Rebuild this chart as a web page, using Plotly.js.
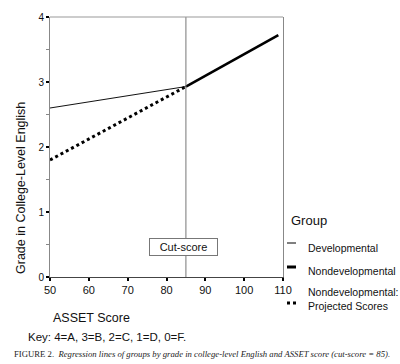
<!DOCTYPE html>
<html>
<head>
<meta charset="utf-8">
<script src="https://cdn.plot.ly/plotly-3.0.1.min.js"></script>
<style>html,body{margin:0;padding:0;background:#fff;}#chart{width:400px;height:364px;}</style>
</head>
<body>
<div id="chart"></div>
<script>
// Data
const devX = [50, 85];
const devY = [2.60, 2.93];
const nondevX = [85, 108.8];
const nondevY = [2.93, 3.72];
const projX = [50, 85];
const projY = [1.80, 2.93];
const cutScore = 85;
const xTicks = [50, 60, 70, 80, 90, 100, 110];
const yTicks = [0, 1, 2, 3, 4];
const seriesNames = ['Developmental', 'Nondevelopmental', 'Nondevelopmental:<br>Projected Scores'];

const FONT = 'Liberation Sans, Arial, sans-serif';

const traces = [
  {x: devX, y: devY, mode: 'lines', name: seriesNames[0], line: {color: '#111', width: 1}, showlegend: false, hoverinfo: 'skip'},
  {x: nondevX, y: nondevY, mode: 'lines', name: seriesNames[1], line: {color: '#000', width: 2.6}, showlegend: false, hoverinfo: 'skip'},
  {x: projX, y: projY, mode: 'lines', name: seriesNames[2], line: {color: '#000', width: 3, dash: 'dot'}, showlegend: false, hoverinfo: 'skip'}
];

const px = p => (p - 50) / 233;
const py = p => (277 - p) / 260;

const legendItems = [
  {ly: 243, ty: 248, w: 1, dash: 'solid'},
  {ly: 267, ty: 271, w: 3, dash: 'solid'},
  {ly: 303, ty: 299, w: 3, dash: 'dot'}
];

const shapes = [
  {type: 'line', xref: 'x', yref: 'paper', x0: cutScore, x1: cutScore, y0: 0, y1: 1, line: {color: '#777', width: 1}},
  {type: 'line', xref: 'paper', yref: 'paper', x0: 0, x1: 1, y0: 1, y1: 1, line: {color: '#999', width: 1}}
];
legendItems.forEach(it => shapes.push({
  type: 'line', xref: 'paper', yref: 'paper', x0: px(287), x1: px(296), y0: py(it.ly), y1: py(it.ly),
  line: {color: '#000', width: it.w, dash: it.dash}
}));

const A = (o) => Object.assign({xref: 'paper', yref: 'paper', showarrow: false, xanchor: 'center', yanchor: 'middle'}, o);

const annotations = [
  A({text: 'Grade in College-Level English', x: px(21), y: py(188), textangle: -90, font: {family: FONT, size: 12.5, color: '#111'}}),
  A({text: 'ASSET Score', x: px(91), y: py(318), font: {family: FONT, size: 12.5, color: '#111'}}),
  A({text: 'Key: 4=A, 3=B, 2=C, 1=D, 0=F.', x: px(107), y: py(337), font: {family: FONT, size: 11.5, color: '#111'}}),
  A({text: 'FIGURE 2.  <i>Regression lines of groups by grade in college-level English and ASSET score (cut-score = 85).</i>', x: px(202), y: py(354), font: {family: 'Liberation Serif, Times New Roman, serif', size: 8.7, color: '#222'}}),
  {text: 'Cut-score', xref: 'x', yref: 'y', x: 84.4, y: 0.46, xanchor: 'center', yanchor: 'middle', showarrow: false, bgcolor: '#fff', bordercolor: '#777', borderwidth: 1, borderpad: 0, width: 67, height: 16, font: {family: FONT, size: 11, color: '#111'}},
  A({text: 'Group', x: px(289), y: py(220), xanchor: 'left', font: {family: FONT, size: 13, color: '#111'}})
];
legendItems.forEach((it, i) => annotations.push(A({
  text: seriesNames[i], x: px(306), y: py(it.ty), xanchor: 'left', align: 'left',
  font: {family: FONT, size: 10.5, color: '#111'}
})));

const layout = {
  width: 400, height: 364,
  margin: {l: 50, r: 117, t: 17, b: 87},
  paper_bgcolor: '#fff', plot_bgcolor: '#fff',
  font: {family: FONT, color: '#111'},
  showlegend: false,
  xaxis: {
    range: [50, 110], tickvals: xTicks, ticktext: xTicks.map(String),
    ticks: 'outside', ticklen: 3, tickwidth: 2, tickcolor: '#000',
    showline: true, linecolor: '#444', linewidth: 1, mirror: false,
    showgrid: false, zeroline: false, tickfont: {size: 11, color: '#111'}
  },
  yaxis: {
    range: [0, 4], tickvals: yTicks, ticktext: yTicks.map(String),
    ticks: 'outside', ticklen: 3, tickwidth: 2, tickcolor: '#000',
    minor: {dtick: 0.5, ticks: 'outside', ticklen: 3, tickwidth: 1, tickcolor: '#888'},
    showline: true, linecolor: '#888', linewidth: 1, mirror: true,
    showgrid: false, zeroline: false, tickfont: {size: 10, color: '#111'}
  },
  shapes: shapes,
  annotations: annotations
};

Plotly.newPlot('chart', traces, layout, {staticPlot: true, displayModeBar: false});
</script>
</body>
</html>
